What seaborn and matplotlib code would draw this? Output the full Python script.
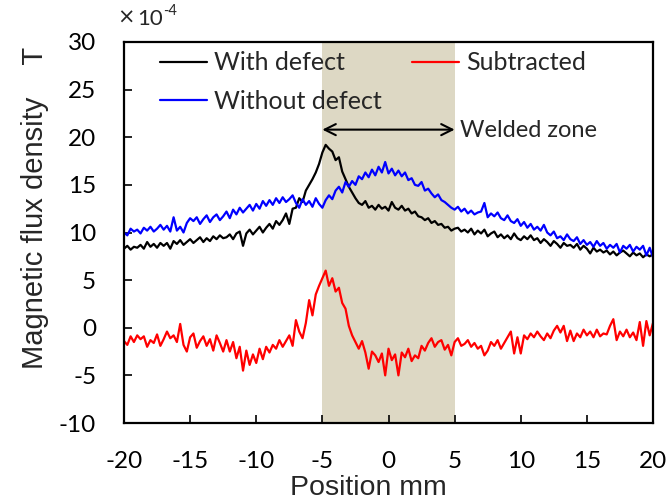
import numpy as np
import pandas as pd
import matplotlib
matplotlib.use("Agg")
import matplotlib.pyplot as plt
import seaborn as sns

# sample positions (mm), 0.25 mm step
position = np.linspace(-20, 20, 161)

with_defect = [
    8.3, 8.6, 8.2, 8.5,  8.4, 8.7, 8.3, 9.0,  8.5, 8.8, 8.4, 8.9,  8.6, 8.9, 8.3, 9.1,
    8.8, 9.2, 8.7, 9.0,  9.3, 8.9, 9.2, 9.5,  9.0, 9.4, 9.1, 9.6,  9.3, 9.7, 9.4, 9.5,
    9.8, 9.3, 9.9, 10.1, 8.6, 9.9, 10.3, 9.8, 10.2, 10.6, 10.0, 10.5, 10.9, 10.4, 11.2, 10.8,
    11.3, 12.0, 10.9, 12.5, 12.6, 13.6, 13.2, 14.4, 15.0, 15.6, 16.3, 17.2, 18.4, 19.2, 18.8, 18.5,
    17.6, 17.9, 16.4, 15.6, 14.8, 14.2, 13.6, 13.1, 12.9, 13.3, 12.6, 12.8, 12.4, 12.9, 12.5, 12.7,
    12.3, 13.2, 12.6, 12.4, 12.8, 12.3, 12.5, 12.0, 12.2, 11.7, 11.6, 11.3, 11.5, 11.0, 11.2, 10.8,
    10.9, 10.5, 10.6, 10.2, 10.4, 10.5, 10.1, 10.3, 10.0, 10.4, 9.8, 10.2, 9.9, 10.3, 9.6, 9.9,
    10.1, 9.5, 9.8, 9.4, 9.7, 9.3, 9.9, 9.4, 9.2, 9.6, 9.3, 9.7, 9.2, 9.4, 8.9, 9.3,
    9.0, 8.6, 9.1, 8.8, 8.4, 8.9, 8.6, 8.7, 8.4, 8.8, 8.2, 8.6, 8.3, 7.8, 8.4, 8.0,
    8.2, 7.9, 8.1, 7.7, 8.0, 7.6, 7.9, 8.1, 7.8, 7.5, 7.9, 7.6, 7.8, 7.4, 7.7, 7.5,
    7.7,
]

without_defect = [
    10.0, 9.7, 10.4, 10.1, 10.3, 9.9, 10.5, 10.2, 10.6, 10.1, 10.4, 10.8, 10.3, 10.7, 10.1, 11.6,
    10.2, 10.6, 10.0, 11.0, 11.5, 11.2, 11.6, 10.9, 11.4, 11.8, 11.1, 11.6, 11.9, 11.3, 11.7, 12.2,
    11.5, 12.4, 11.9, 12.6, 12.1, 12.5, 12.9, 12.3, 13.0, 12.5, 13.3, 12.8, 13.4, 12.9, 13.6, 13.1,
    13.7, 13.2, 13.5, 13.9, 13.1, 12.6, 13.5, 12.9, 13.3, 12.7, 13.6, 13.0, 12.6, 13.4, 13.9, 13.5,
    14.4, 14.8, 14.2, 15.3, 14.8, 15.4, 15.0, 15.9, 15.6, 16.3, 15.8, 16.6, 16.0, 16.9, 16.3, 17.4,
    16.2, 16.7, 16.0, 16.5, 15.9, 16.3, 15.5, 15.7, 15.0, 14.9, 15.3, 14.4, 14.6, 14.1, 13.7, 14.0,
    13.4, 13.2, 12.9, 12.6, 12.4, 12.7, 12.2, 12.5, 12.0, 12.3, 11.9, 12.1, 12.2, 13.1, 11.6, 12.0,
    11.7, 12.1, 11.5, 11.3, 11.8, 11.2, 11.0, 11.4, 10.7, 11.1, 10.5, 10.9, 10.3, 10.6, 10.2, 10.8,
    10.0, 9.7, 10.1, 9.4, 9.6, 9.2, 9.8, 9.3, 9.1, 9.5, 8.8, 9.2, 8.7, 9.0, 8.5, 9.1,
    8.6, 8.9, 8.3, 8.7, 8.4, 8.8, 7.9, 8.6, 8.3, 8.7, 8.0, 8.5, 8.2, 8.6, 7.6, 8.4,
    7.4,
]

subtracted = [
    -1.4, -1.8, -0.9, -1.5, -0.8, -1.2, -0.9, -2.0, -1.3, -1.6, -0.7, -1.9, -1.2, -0.4, -1.1, -0.8,
    -1.5, 0.4, -1.8, -2.5, -1.0, -0.6, -2.1, -1.4, -0.9, -1.9, -1.2, -2.4, -0.8, -1.6, -2.5, -1.3,
    -2.5, -1.5, -3.2, -2.0, -4.5, -2.4, -3.9, -2.8, -3.7, -2.2, -3.3, -2.0, -2.6, -1.8, -2.2, -1.3,
    -2.0, -1.4, -0.8, -1.9, 0.8, -0.4, -1.1, 0.5, 2.9, 1.3, 3.5, 4.4, 5.2, 6.0, 4.4, 5.2,
    3.8, 4.2, 2.6, 2.0, 0.2, -0.8, -1.5, -2.2, -1.4, -2.6, -4.3, -2.5, -2.9, -3.6, -2.7, -5.0,
    -2.2, -3.4, -2.8, -5.0, -2.6, -3.1, -2.2, -3.5, -2.9, -3.2, -1.9, -2.4, -1.6, -1.1, -2.0, -1.5,
    -1.3, -2.3, -1.8, -2.9, -1.5, -1.1, -1.9, -1.7, -1.3, -2.0, -1.6, -2.2, -1.9, -2.9, -2.4, -1.5,
    -1.9, -1.3, -2.2, -1.6, -1.0, -0.4, -2.7, -1.0, -2.7, -0.8, -1.2, -0.6, -1.0, -0.4, -0.9, -1.3,
    -0.6, -1.1, -0.3, 0.2, -0.5, 0.2, -1.4, -0.3, -1.4, -0.6, -1.0, -0.2, -0.8, -0.4, -1.0, -0.2,
    -0.9, -0.6, -0.7, 0.2, 0.9, -1.3, -0.4, -0.9, -0.2, -1.0, -0.5, -1.3, 0.6, -1.9, 0.7, -0.8,
    0.5,
]

x_ticks = [-20, -15, -10, -5, 0, 5, 10, 15, 20]
y_ticks = [-10, -5, 0, 5, 10, 15, 20, 25, 30]
weld_zone = (-5, 5)

df = pd.DataFrame({
    "Position": np.concatenate([position] * 3),
    "B": np.concatenate([with_defect, without_defect, subtracted]),
    "Series": ["With defect"] * 161 + ["Without defect"] * 161 + ["Subtracted"] * 161,
})

sns.set_style("ticks")
plt.rcParams["font.family"] = ["Lato", "DejaVu Sans"]

fig = plt.figure(figsize=(6.68, 5.04), dpi=100)
ax = fig.add_axes([124 / 668, 1 - 423 / 504, (653 - 124) / 668, (423 - 42) / 504])

ax.axvspan(weld_zone[0], weld_zone[1], color="#DDD8C4", lw=0, zorder=0)

palette = {"With defect": "black", "Without defect": "#0000FF", "Subtracted": "#FF0000"}
for name in ["With defect", "Without defect", "Subtracted"]:
    sub = df[df["Series"] == name]
    sns.lineplot(data=sub, x="Position", y="B", color=palette[name], lw=1.6,
                 label=name, ax=ax, legend=False)

ax.set_xlim(-20, 20)
ax.set_ylim(-10, 30)
ax.set_xticks(x_ticks)
ax.set_yticks(y_ticks)
ax.set_xticklabels([str(v) for v in x_ticks])
ax.set_yticklabels([str(v) for v in y_ticks])
ax.tick_params(axis="both", direction="in", length=6, width=1.2, labelsize=17.5, colors="black")
ax.tick_params(axis="x", pad=20)
ax.tick_params(axis="y", pad=20)
for s in ax.spines.values():
    s.set_linewidth(1.6)
    s.set_color("black")
    s.set_visible(True)
ax.set_xlabel("")
ax.set_ylabel("")

fig.text(368 / 668, 1 - 488 / 504, "Position mm", family="Liberation Sans", fontsize=20.5,
         ha="center", va="center")
fig.text(35 / 668, 1 - 208 / 504, "Magnetic flux density    T", family="Liberation Sans",
         fontsize=21, rotation=90, ha="center", va="center")
fig.text(117 / 668, 1 - 18 / 504, "×", family="DejaVu Sans", fontsize=15, ha="left", va="center")
fig.text(137 / 668, 1 - 19 / 504, "10", fontsize=16, ha="left", va="center")
fig.text(163 / 668, 1 - 11 / 504, "-4", fontsize=10.5, ha="left", va="center")

ax.annotate("", xy=(weld_zone[0], 20.8), xytext=(weld_zone[1], 20.8),
            arrowprops=dict(arrowstyle="<->,head_length=0.8,head_width=0.4", color="black", lw=1.5,
                            shrinkA=0, shrinkB=0))
ax.text(5.4, 20.7, "Welded zone", fontsize=17, ha="left", va="center")

h, l = ax.get_legend_handles_labels()
hd = dict(zip(l, h))
leg1 = ax.legend([hd["With defect"], hd["Without defect"]], ["With defect", "Without defect"],
                 loc="upper left", bbox_to_anchor=(152 / 668, 1 - 44 / 504), bbox_transform=fig.transFigure,
                 frameon=False, fontsize=18, handlelength=1.9, handletextpad=0.3, labelspacing=0.62,
                 borderaxespad=0, borderpad=0.3)
ax.add_artist(leg1)
ax.legend([hd["Subtracted"]], ["Subtracted"],
          loc="upper left", bbox_to_anchor=(404 / 668, 1 - 44 / 504), bbox_transform=fig.transFigure,
          frameon=False, fontsize=18, handlelength=1.9, handletextpad=0.3,
          borderaxespad=0, borderpad=0.3)

fig.savefig("out.png", dpi=100)
